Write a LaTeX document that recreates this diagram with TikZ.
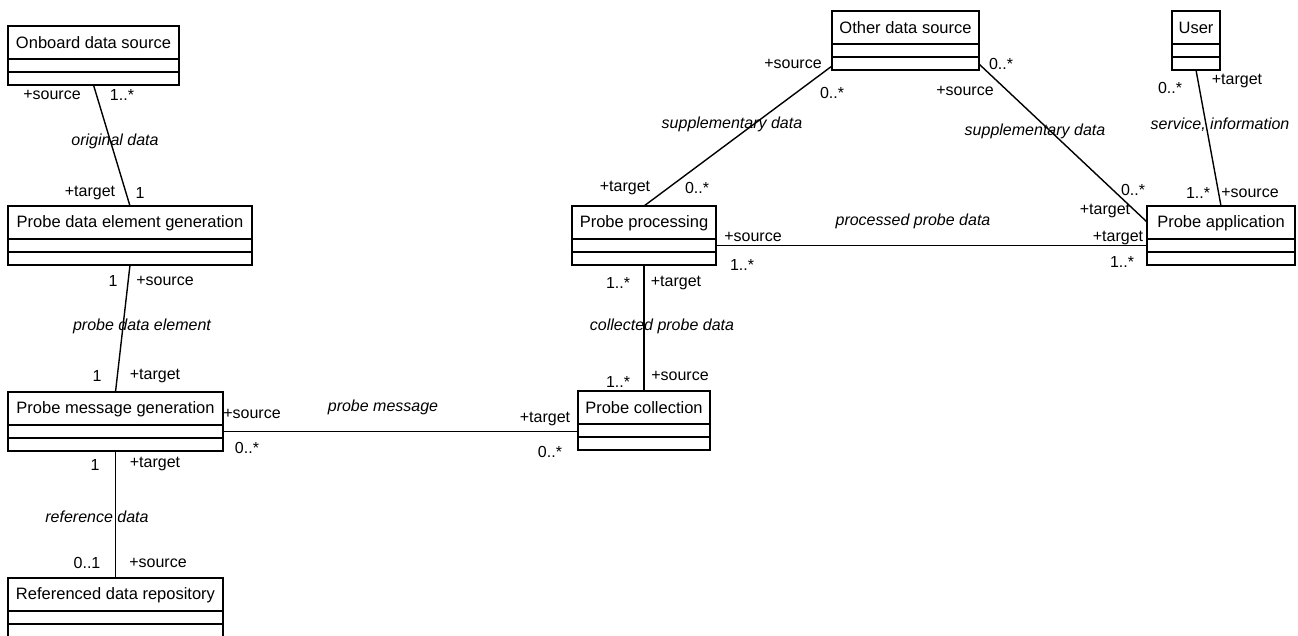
\documentclass[tikz,border=0pt]{standalone}
\usepackage{fontspec}
\setmainfont{Liberation Sans}

\tikzset{
  umlbox/.style={draw, line width=2pt, anchor=north west, minimum height=59pt, inner sep=0pt, outer sep=0pt},
  assoc/.style={line width=1.4pt},
  role/.style={font=\fontsize{16}{18}\selectfont, inner sep=0pt},
  aname/.style={font=\fontsize{16}{18}\selectfont\itshape, inner sep=0pt},
}

% name, left x, top y, width, title
\newcommand{\umlclass}[5]{%
  \node[umlbox, minimum width=#4] (#1) at (#2,#3) {};
  \node[font=\fontsize{16.5}{18}\selectfont] (#1-title) at ([yshift=-17pt]#1.north) {#5};
  \draw[line width=2pt] ([yshift=-33pt]#1.north west) -- ([yshift=-33pt]#1.north east);
  \draw[line width=2pt] ([yshift=-46pt]#1.north west) -- ([yshift=-46pt]#1.north east);
}

\begin{document}
\begin{tikzpicture}[x=1pt,y=-1pt]

\useasboundingbox (0,0) rectangle (1298,635);

% classes
\umlclass{ob}{8}{26}{171}{Onboard data source}
\umlclass{pdeg}{8}{206}{244}{Probe data element generation}
\umlclass{pmg}{8}{392}{215}{Probe message generation}
\umlclass{rdr}{8}{578}{215}{Referenced data repository}
\umlclass{ods}{832}{11}{147}{Other data source}
\umlclass{pproc}{572}{206}{144}{Probe processing}
\umlclass{user}{1172}{11}{48}{User}
\umlclass{papp}{1147}{206}{148}{Probe application}
\umlclass{pcoll}{578}{391}{132}{Probe collection}

% associations
\draw[assoc] (ob.south) -- (pdeg.north);
\draw[assoc] (pdeg.south) -- (pmg.north);
\draw[assoc] (pmg.south) -- (rdr.north);
\draw[assoc] ([yshift=-10pt]pmg.east) -- ([yshift=-10pt]pmg.east -| pcoll.west);
\draw[assoc] (pproc.south) -- (pcoll.north);
\draw[assoc] ([yshift=-10pt]pproc.east) -- ([yshift=-10pt]pproc.east -| papp.west);
\draw[assoc] ([yshift=4pt]ods.south west) -- (pproc.north);
\draw[assoc] ([yshift=6pt]ods.south east) -- ([yshift=-16pt]papp.north west);
\draw[assoc] (user.south) -- (papp.north);

% onboard -> element generation
\node[role] (r1a) at (52,95) {+source};
\node[role] (m1a) at (122,95) {1..*};
\node[aname] (n1) at (115,141) {original data};
\node[role] (r1b) at (90,193) {+target};
\node[role] (m1b) at (140,193) {1};

% element generation -> message generation
\node[role] (m2a) at (113,281) {1};
\node[role] (r2a) at (165,281) {+source};
\node[aname] (n2) at (142,326) {probe data element};
\node[role] (m2b) at (97,376) {1};
\node[role] (r2b) at (155,376) {+target};

% message generation -> repository
\node[role] (m3a) at (95,465) {1};
\node[role] (r3a) at (155,464) {+target};
\node[aname] (n3) at (97,517) {reference data};
\node[role] (m3b) at (87,563) {0..1};
\node[role] (r3b) at (158,563) {+source};

% message generation -> collection
\node[role] (r4a) at (252,414) {+source};
\node[role] (m4a) at (247,448) {0..*};
\node[aname] (n4) at (383,407) {probe message};
\node[role] (r4b) at (545,419) {+target};
\node[role] (m4b) at (550,452) {0..*};

% processing -> collection
\node[role] (m5a) at (618,283) {1..*};
\node[role] (r5a) at (676,283) {+target};
\node[aname] (n5) at (662,326) {collected probe data};
\node[role] (m5b) at (618,382) {1..*};
\node[role] (r5b) at (680,376) {+source};

% processing -> application
\node[role] (r6a) at (753,237) {+source};
\node[role] (m6a) at (742,265) {1..*};
\node[aname] (n6) at (913,221) {processed probe data};
\node[role] (r6b) at (1118,238) {+target};
\node[role] (m6b) at (1122,262) {1..*};

% other source -> processing
\node[role] (r7a) at (793,64) {+source};
\node[role] (m7a) at (832,93) {0..*};
\node[aname] (n7) at (732,124) {supplementary data};
\node[role] (r7b) at (625,188) {+target};
\node[role] (m7b) at (697,188) {0..*};

% other source -> application
\node[role] (m8a) at (1001,64) {0..*};
\node[role] (r8a) at (965,91) {+source};
\node[aname] (n8) at (1035,131) {supplementary data};
\node[role] (m8b) at (1133,190) {0..*};
\node[role] (r8b) at (1105,211) {+target};

% user -> application
\node[role] (m9a) at (1170,88) {0..*};
\node[role] (r9a) at (1237,81) {+target};
\node[aname] (n9) at (1220,125) {service, information};
\node[role] (m9b) at (1198,193) {1..*};
\node[role] (r9b) at (1250,193) {+source};

\end{tikzpicture}
\end{document}
